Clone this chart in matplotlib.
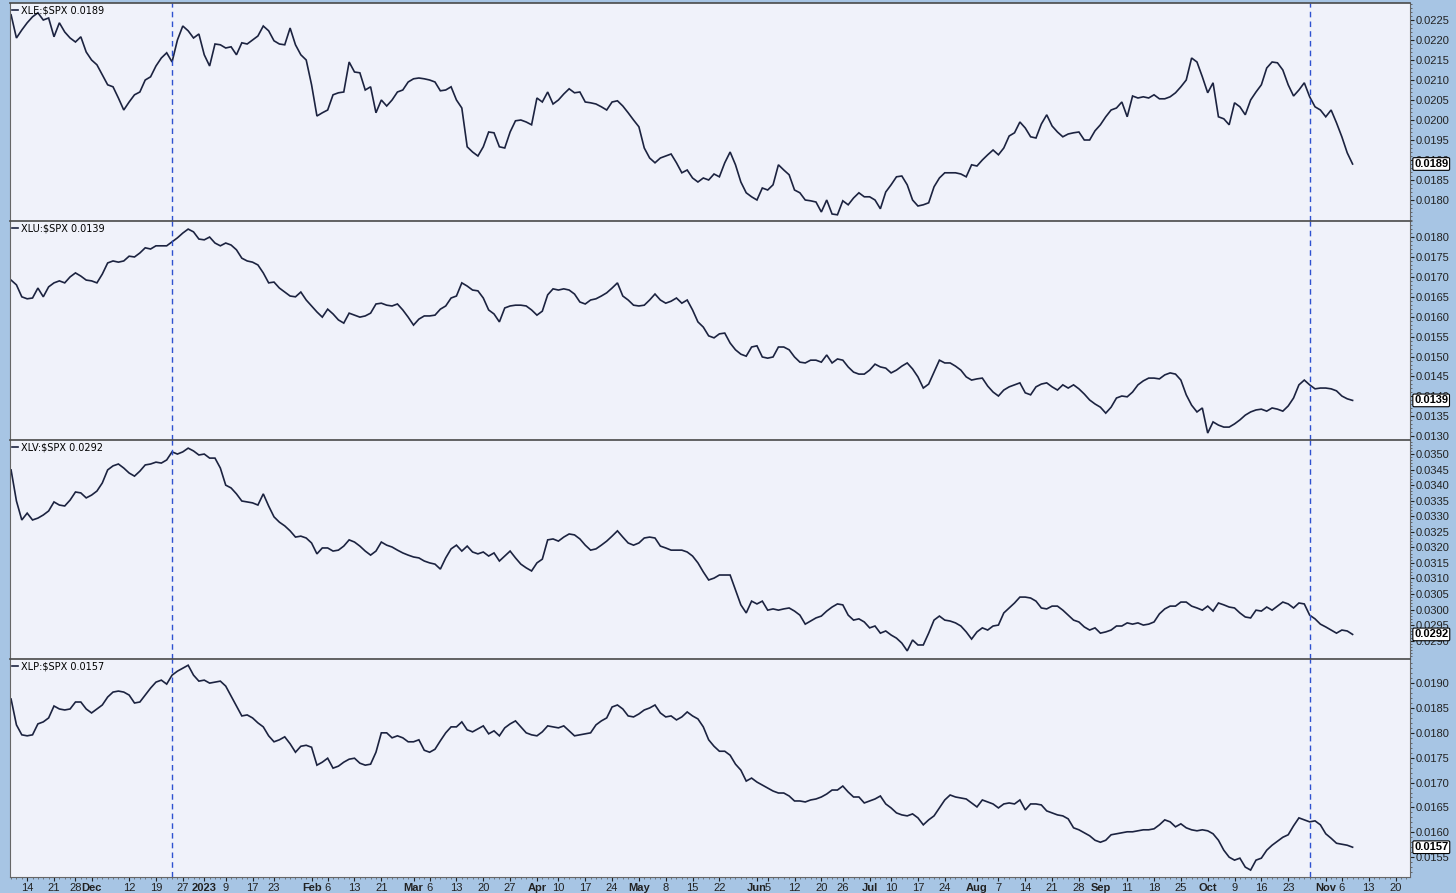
import numpy as np
import pandas as pd
import matplotlib
matplotlib.use('Agg')
import matplotlib.pyplot as plt
from matplotlib.ticker import FixedLocator, MultipleLocator, FormatStrFormatter

plt.rcParams['font.family'] = ['Liberation Sans', 'DejaVu Sans']

# NYSE holidays in the window (trading-day x axis, no gaps)
HOLIDAYS = ['2022-11-24', '2022-12-26', '2023-01-02', '2023-01-16', '2023-02-20',
            '2023-04-07', '2023-05-29', '2023-06-19', '2023-07-04', '2023-09-04',
            '2023-11-23']
trading_days = pd.bdate_range('2022-11-09', '2023-11-24', freq='C', holidays=HOLIDAYS)

xle = [0.02263, 0.02205, 0.02225, 0.02243, 0.02258, 0.02268, 0.02250, 0.02255, 0.02208, 0.02243,
       0.02220, 0.02205, 0.02195, 0.02208, 0.02170, 0.02150, 0.02138, 0.02113, 0.02088, 0.02083,
       0.02055, 0.02025, 0.02045, 0.02063, 0.02070, 0.02100, 0.02108, 0.02135, 0.02155, 0.02168,
       0.02145, 0.02200, 0.02235, 0.02223, 0.02205, 0.02215, 0.02163, 0.02135, 0.02190, 0.02188,
       0.02180, 0.02183, 0.02163, 0.02193, 0.02190, 0.02200, 0.02210, 0.02235, 0.02223, 0.02198,
       0.02190, 0.02188, 0.02230, 0.02188, 0.02163, 0.02150, 0.02088, 0.02010, 0.02018, 0.02025,
       0.02063, 0.02068, 0.02070, 0.02145, 0.02120, 0.02118, 0.02075, 0.02083, 0.02018, 0.02050,
       0.02035, 0.02050, 0.02070, 0.02075, 0.02095, 0.02103, 0.02105, 0.02103, 0.02100, 0.02095,
       0.02073, 0.02075, 0.02083, 0.02050, 0.02030, 0.01933, 0.01920, 0.01910, 0.01933, 0.01970,
       0.01968, 0.01933, 0.01930, 0.01970, 0.01998, 0.02000, 0.01995, 0.01988, 0.02055, 0.02045,
       0.02070, 0.02040, 0.02050, 0.02065, 0.02078, 0.02068, 0.02070, 0.02045, 0.02043, 0.02040,
       0.02033, 0.02025, 0.02045, 0.02048, 0.02035, 0.02018, 0.02000, 0.01983, 0.01930, 0.01905,
       0.01893, 0.01905, 0.01910, 0.01915, 0.01893, 0.01868, 0.01875, 0.01855, 0.01845, 0.01855,
       0.01850, 0.01865, 0.01858, 0.01893, 0.01920, 0.01888, 0.01845, 0.01818, 0.01808, 0.01800,
       0.01830, 0.01825, 0.01838, 0.01888, 0.01875, 0.01863, 0.01825, 0.01818, 0.01800, 0.01798,
       0.01795, 0.01770, 0.01800, 0.01765, 0.01763, 0.01798, 0.01788, 0.01805, 0.01818, 0.01808,
       0.01808, 0.01800, 0.01778, 0.01820, 0.01838, 0.01858, 0.01860, 0.01838, 0.01800, 0.01785,
       0.01788, 0.01793, 0.01833, 0.01855, 0.01868, 0.01868, 0.01868, 0.01865, 0.01858, 0.01888,
       0.01885, 0.01900, 0.01913, 0.01925, 0.01913, 0.01930, 0.01960, 0.01968, 0.01995, 0.01980,
       0.01958, 0.01955, 0.01990, 0.02013, 0.01985, 0.01970, 0.01958, 0.01965, 0.01968, 0.01970,
       0.01950, 0.01950, 0.01973, 0.01988, 0.02008, 0.02025, 0.02030, 0.02045, 0.02008, 0.02060,
       0.02055, 0.02058, 0.02055, 0.02063, 0.02053, 0.02053, 0.02058, 0.02068, 0.02083, 0.02100,
       0.02155, 0.02145, 0.02108, 0.02068, 0.02093, 0.02008, 0.02003, 0.01988, 0.02043, 0.02033,
       0.02013, 0.02050, 0.02070, 0.02088, 0.02130, 0.02145, 0.02143, 0.02125, 0.02088, 0.02060,
       0.02075, 0.02093, 0.02058, 0.02033, 0.02025, 0.02008, 0.02025, 0.01993, 0.01958, 0.01918,
       0.01890]

xlu = [0.01692, 0.01680, 0.01650, 0.01645, 0.01647, 0.01672, 0.01650, 0.01675, 0.01685, 0.01690,
       0.01685, 0.01700, 0.01710, 0.01702, 0.01692, 0.01690, 0.01685, 0.01707, 0.01735, 0.01740,
       0.01737, 0.01740, 0.01752, 0.01750, 0.01760, 0.01773, 0.01770, 0.01778, 0.01778, 0.01778,
       0.01788, 0.01798, 0.01810, 0.01820, 0.01813, 0.01795, 0.01793, 0.01800, 0.01785, 0.01778,
       0.01785, 0.01780, 0.01768, 0.01747, 0.01740, 0.01737, 0.01730, 0.01710, 0.01685, 0.01687,
       0.01672, 0.01662, 0.01652, 0.01650, 0.01662, 0.01642, 0.01627, 0.01612, 0.01599, 0.01619,
       0.01607, 0.01592, 0.01584, 0.01609, 0.01604, 0.01599, 0.01602, 0.01609, 0.01632, 0.01634,
       0.01629, 0.01627, 0.01632, 0.01617, 0.01599, 0.01579, 0.01594, 0.01602, 0.01602, 0.01604,
       0.01619, 0.01627, 0.01647, 0.01652, 0.01685, 0.01677, 0.01667, 0.01665, 0.01647, 0.01617,
       0.01607, 0.01587, 0.01622, 0.01627, 0.01629, 0.01629, 0.01627, 0.01617, 0.01604, 0.01614,
       0.01655, 0.01670, 0.01667, 0.01670, 0.01667, 0.01657, 0.01637, 0.01632, 0.01642, 0.01645,
       0.01652, 0.01660, 0.01672, 0.01685, 0.01652, 0.01642, 0.01629, 0.01627, 0.01629, 0.01642,
       0.01657, 0.01642, 0.01634, 0.01639, 0.01647, 0.01634, 0.01642, 0.01617, 0.01587, 0.01574,
       0.01552, 0.01547, 0.01557, 0.01559, 0.01534, 0.01517, 0.01506, 0.01501, 0.01524, 0.01527,
       0.01499, 0.01496, 0.01499, 0.01524, 0.01524, 0.01517, 0.01499, 0.01486, 0.01484, 0.01491,
       0.01491, 0.01486, 0.01504, 0.01484, 0.01494, 0.01491, 0.01474, 0.01461, 0.01456, 0.01456,
       0.01466, 0.01481, 0.01474, 0.01471, 0.01459, 0.01466, 0.01476, 0.01484, 0.01469, 0.01449,
       0.01421, 0.01431, 0.01461, 0.01491, 0.01484, 0.01484, 0.01476, 0.01466, 0.01449, 0.01441,
       0.01444, 0.01446, 0.01426, 0.01411, 0.01401, 0.01416, 0.01424, 0.01429, 0.01434, 0.01409,
       0.01404, 0.01424, 0.01431, 0.01434, 0.01424, 0.01416, 0.01429, 0.01421, 0.01429, 0.01419,
       0.01406, 0.01391, 0.01381, 0.01373, 0.01358, 0.01373, 0.01396, 0.01401, 0.01399, 0.01411,
       0.01429, 0.01439, 0.01446, 0.01446, 0.01444, 0.01454, 0.01459, 0.01456, 0.01441, 0.01404,
       0.01378, 0.01361, 0.01371, 0.01308, 0.01336, 0.01328, 0.01323, 0.01323, 0.01331, 0.01341,
       0.01353, 0.01361, 0.01366, 0.01368, 0.01363, 0.01371, 0.01368, 0.01363, 0.01376, 0.01396,
       0.01429, 0.01441, 0.01429, 0.01419, 0.01421, 0.01421, 0.01419, 0.01414, 0.01401, 0.01394,
       0.01390]

xlv = [0.03449, 0.03349, 0.03288, 0.03310, 0.03288, 0.03294, 0.03304, 0.03317, 0.03346, 0.03336,
       0.03333, 0.03352, 0.03378, 0.03375, 0.03359, 0.03368, 0.03381, 0.03407, 0.03449, 0.03462,
       0.03468, 0.03455, 0.03439, 0.03429, 0.03445, 0.03465, 0.03468, 0.03474, 0.03471, 0.03481,
       0.03507, 0.03500, 0.03507, 0.03519, 0.03510, 0.03497, 0.03500, 0.03487, 0.03487, 0.03455,
       0.03400, 0.03391, 0.03372, 0.03349, 0.03346, 0.03343, 0.03336, 0.03372, 0.03333, 0.03298,
       0.03281, 0.03269, 0.03253, 0.03233, 0.03236, 0.03230, 0.03214, 0.03179, 0.03198, 0.03198,
       0.03188, 0.03191, 0.03204, 0.03224, 0.03217, 0.03204, 0.03188, 0.03175, 0.03188, 0.03217,
       0.03207, 0.03201, 0.03191, 0.03182, 0.03175, 0.03169, 0.03166, 0.03156, 0.03150, 0.03146,
       0.03130, 0.03166, 0.03195, 0.03207, 0.03188, 0.03204, 0.03185, 0.03179, 0.03185, 0.03172,
       0.03182, 0.03156, 0.03172, 0.03188, 0.03166, 0.03146, 0.03134, 0.03124, 0.03150, 0.03162,
       0.03224, 0.03227, 0.03220, 0.03233, 0.03243, 0.03240, 0.03227, 0.03207, 0.03191, 0.03195,
       0.03207, 0.03220, 0.03236, 0.03253, 0.03233, 0.03214, 0.03207, 0.03214, 0.03230, 0.03233,
       0.03230, 0.03204, 0.03198, 0.03191, 0.03191, 0.03191, 0.03185, 0.03172, 0.03150, 0.03121,
       0.03095, 0.03101, 0.03111, 0.03111, 0.03111, 0.03063, 0.03015, 0.02989, 0.03027, 0.03018,
       0.03027, 0.02998, 0.03002, 0.02998, 0.03002, 0.03005, 0.02995, 0.02982, 0.02953, 0.02963,
       0.02973, 0.02979, 0.02995, 0.03008, 0.03018, 0.03015, 0.02982, 0.02966, 0.02970, 0.02960,
       0.02941, 0.02947, 0.02924, 0.02931, 0.02918, 0.02908, 0.02892, 0.02867, 0.02902, 0.02886,
       0.02886, 0.02924, 0.02966, 0.02979, 0.02966, 0.02963, 0.02957, 0.02947, 0.02928, 0.02905,
       0.02928, 0.02941, 0.02934, 0.02947, 0.02950, 0.02989, 0.03005, 0.03021, 0.03040, 0.03040,
       0.03037, 0.03027, 0.03005, 0.03002, 0.03011, 0.03011, 0.02998, 0.02982, 0.02966, 0.02960,
       0.02944, 0.02934, 0.02941, 0.02924, 0.02928, 0.02934, 0.02947, 0.02947, 0.02957, 0.02953,
       0.02957, 0.02950, 0.02953, 0.02960, 0.02986, 0.03002, 0.03011, 0.03011, 0.03024, 0.03024,
       0.03011, 0.03005, 0.02998, 0.03011, 0.02995, 0.03021, 0.03015, 0.03008, 0.03005, 0.02989,
       0.02976, 0.02973, 0.02998, 0.02995, 0.03008, 0.02998, 0.03011, 0.03024, 0.03018, 0.03005,
       0.03021, 0.03018, 0.02982, 0.02970, 0.02953, 0.02944, 0.02934, 0.02924, 0.02934, 0.02931,
       0.02920]

xlp = [0.01868, 0.01816, 0.01796, 0.01794, 0.01796, 0.01818, 0.01822, 0.01830, 0.01854, 0.01848,
       0.01846, 0.01848, 0.01862, 0.01862, 0.01848, 0.01840, 0.01848, 0.01856, 0.01872, 0.01882,
       0.01884, 0.01882, 0.01876, 0.01860, 0.01862, 0.01876, 0.01890, 0.01902, 0.01906, 0.01898,
       0.01916, 0.01924, 0.01930, 0.01936, 0.01916, 0.01904, 0.01906, 0.01900, 0.01902, 0.01904,
       0.01894, 0.01874, 0.01854, 0.01834, 0.01836, 0.01830, 0.01820, 0.01812, 0.01794, 0.01782,
       0.01786, 0.01792, 0.01778, 0.01761, 0.01773, 0.01775, 0.01771, 0.01735, 0.01741, 0.01749,
       0.01729, 0.01733, 0.01741, 0.01747, 0.01749, 0.01739, 0.01735, 0.01737, 0.01761, 0.01800,
       0.01800, 0.01790, 0.01794, 0.01790, 0.01782, 0.01782, 0.01786, 0.01765, 0.01761, 0.01767,
       0.01784, 0.01800, 0.01812, 0.01812, 0.01822, 0.01806, 0.01802, 0.01808, 0.01814, 0.01798,
       0.01804, 0.01794, 0.01810, 0.01818, 0.01824, 0.01812, 0.01800, 0.01796, 0.01794, 0.01802,
       0.01814, 0.01812, 0.01810, 0.01814, 0.01804, 0.01794, 0.01796, 0.01798, 0.01800, 0.01816,
       0.01824, 0.01830, 0.01852, 0.01856, 0.01848, 0.01834, 0.01832, 0.01838, 0.01846, 0.01850,
       0.01856, 0.01840, 0.01832, 0.01834, 0.01826, 0.01832, 0.01842, 0.01834, 0.01828, 0.01812,
       0.01786, 0.01773, 0.01763, 0.01763, 0.01755, 0.01737, 0.01725, 0.01703, 0.01709, 0.01701,
       0.01695, 0.01689, 0.01683, 0.01679, 0.01679, 0.01673, 0.01663, 0.01663, 0.01661, 0.01665,
       0.01667, 0.01671, 0.01677, 0.01685, 0.01685, 0.01693, 0.01681, 0.01671, 0.01671, 0.01659,
       0.01663, 0.01667, 0.01673, 0.01657, 0.01649, 0.01639, 0.01635, 0.01633, 0.01637, 0.01629,
       0.01615, 0.01625, 0.01633, 0.01649, 0.01665, 0.01675, 0.01671, 0.01669, 0.01667, 0.01659,
       0.01651, 0.01665, 0.01661, 0.01657, 0.01649, 0.01657, 0.01659, 0.01657, 0.01665, 0.01645,
       0.01657, 0.01657, 0.01655, 0.01643, 0.01639, 0.01635, 0.01633, 0.01627, 0.01609, 0.01605,
       0.01599, 0.01593, 0.01584, 0.01580, 0.01584, 0.01595, 0.01597, 0.01599, 0.01601, 0.01601,
       0.01603, 0.01605, 0.01605, 0.01607, 0.01615, 0.01625, 0.01621, 0.01611, 0.01617, 0.01609,
       0.01605, 0.01603, 0.01605, 0.01603, 0.01597, 0.01584, 0.01564, 0.01550, 0.01544, 0.01548,
       0.01530, 0.01524, 0.01544, 0.01548, 0.01564, 0.01574, 0.01582, 0.01590, 0.01595, 0.01613,
       0.01629, 0.01625, 0.01621, 0.01623, 0.01615, 0.01597, 0.01588, 0.01578, 0.01576, 0.01574,
       0.01570]

tick_dates = ['2022-11-14', '2022-11-21', '2022-11-28', '2022-12-01', '2022-12-12', '2022-12-19',
              '2022-12-27', '2023-01-03', '2023-01-09', '2023-01-17', '2023-01-23', '2023-02-01',
              '2023-02-06', '2023-02-13', '2023-02-21', '2023-03-01', '2023-03-06', '2023-03-13',
              '2023-03-20', '2023-03-27', '2023-04-03', '2023-04-10', '2023-04-17', '2023-04-24',
              '2023-05-01', '2023-05-08', '2023-05-15', '2023-05-22', '2023-06-01', '2023-06-05',
              '2023-06-12', '2023-06-20', '2023-06-26', '2023-07-03', '2023-07-10', '2023-07-17',
              '2023-07-24', '2023-08-01', '2023-08-07', '2023-08-14', '2023-08-21', '2023-08-28',
              '2023-09-01', '2023-09-11', '2023-09-18', '2023-09-25', '2023-10-02', '2023-10-09',
              '2023-10-16', '2023-10-23', '2023-11-01', '2023-11-06', '2023-11-13', '2023-11-20']
tick_labels = ['14', '21', '28', 'Dec', '12', '19', '27', '2023', '9', '17', '23', 'Feb',
               '6', '13', '21', 'Mar', '6', '13', '20', '27', 'Apr', '10', '17', '24',
               'May', '8', '15', '22', 'Jun', '5', '12', '20', '26', 'Jul', '10', '17',
               '24', 'Aug', '7', '14', '21', '28', 'Sep', '11', '18', '25', 'Oct', '9',
               '16', '23', 'Nov', '6', '13', '20']
marker_dates = ['2022-12-22', '2023-10-27']

# name, series, (first tick, last tick), y-limits, panel top/bottom in px
panels = [
    ('XLE:$SPX', xle, (0.0180, 0.0225), (0.017475, 0.022925), (3, 221)),
    ('XLU:$SPX', xlu, (0.0130, 0.0180), (0.012906, 0.018403), (221, 440)),
    ('XLV:$SPX', xlv, (0.0290, 0.0350), (0.028409, 0.035452), (440, 659)),
    ('XLP:$SPX', xlp, (0.0155, 0.0190), (0.015101, 0.019485), (659, 877)),
]

W, H = 1456, 893
BG = '#a7c5e4'
PLOT_BG = '#f0f2fa'
LINE = '#1c2340'
DASH = '#2f52d0'

fig = plt.figure(figsize=(W / 100, H / 100), dpi=100, facecolor=BG)

day_pos = {d: i for i, d in enumerate(trading_days)}
tick_pos = [day_pos[pd.Timestamp(d)] for d in tick_dates]
marker_pos = [day_pos[pd.Timestamp(d)] for d in marker_dates]

for k, (name, values, (t0, t1), ylim, (top, bot)) in enumerate(panels):
    ax = fig.add_axes([10 / W, 1 - bot / H, 1400 / W, (bot - top) / H], facecolor=PLOT_BG)
    x = np.arange(len(values))
    last = values[-1]
    line, = ax.plot(x, values, color=LINE, lw=1.2, solid_joinstyle='miter')
    for p in marker_pos:
        ax.axvline(p, color=DASH, lw=1.0, ls=(0, (4, 3)))

    ax.set_xlim(-0.2, 260.7)
    ax.set_ylim(*ylim)

    ax.yaxis.tick_right()
    ax.yaxis.set_major_locator(FixedLocator(np.arange(t0, t1 + 1e-9, 0.0005)))
    ax.yaxis.set_minor_locator(MultipleLocator(0.0001))
    ax.yaxis.set_major_formatter(FormatStrFormatter('%.4f'))
    ax.tick_params(axis='y', which='major', direction='out', length=3, width=0.8,
                   labelsize=8, pad=1, colors='#222222')
    ax.tick_params(axis='y', which='minor', direction='out', length=1.5, width=0.6,
                   colors='#555555')

    for side in ['left', 'right', 'bottom']:
        ax.spines[side].set_color('#666666')
        ax.spines[side].set_linewidth(0.8)
    ax.spines['top'].set_color('#4a4a4a')
    ax.spines['top'].set_linewidth(1.2)

    ax.legend([line], [f'{name} {last:.4f}'], loc='upper left', frameon=False,
              handlelength=0.6, handletextpad=0.3, borderaxespad=0.15, borderpad=0.1,
              prop={'family': 'DejaVu Sans', 'size': 7})

    ax.annotate(f'{last:.4f}', xy=(1, last), xycoords=('axes fraction', 'data'),
                xytext=(3, 0), textcoords='offset points', ha='left', va='center',
                fontsize=8, fontweight='bold', color='black', zorder=10,
                bbox=dict(boxstyle='round,pad=0.12', fc='white', ec='black', lw=0.8),
                annotation_clip=False)

    if k < len(panels) - 1:
        ax.tick_params(axis='x', which='both', length=0, labelbottom=False)
    else:
        ax.set_xticks(tick_pos)
        ax.set_xticklabels(tick_labels)
        ax.xaxis.set_minor_locator(FixedLocator(np.arange(len(trading_days))))
        ax.tick_params(axis='x', which='major', direction='out', length=3, width=0.8,
                       labelsize=8, pad=1, colors='#222222')
        ax.tick_params(axis='x', which='minor', direction='out', length=1.5, width=0.5,
                       colors='#555555')
        for lab in ax.get_xticklabels():
            txt = lab.get_text()
            if not txt.isdigit() or len(txt) == 4:
                lab.set_fontweight('bold')

fig.savefig('out.png', dpi=100, facecolor=BG)
